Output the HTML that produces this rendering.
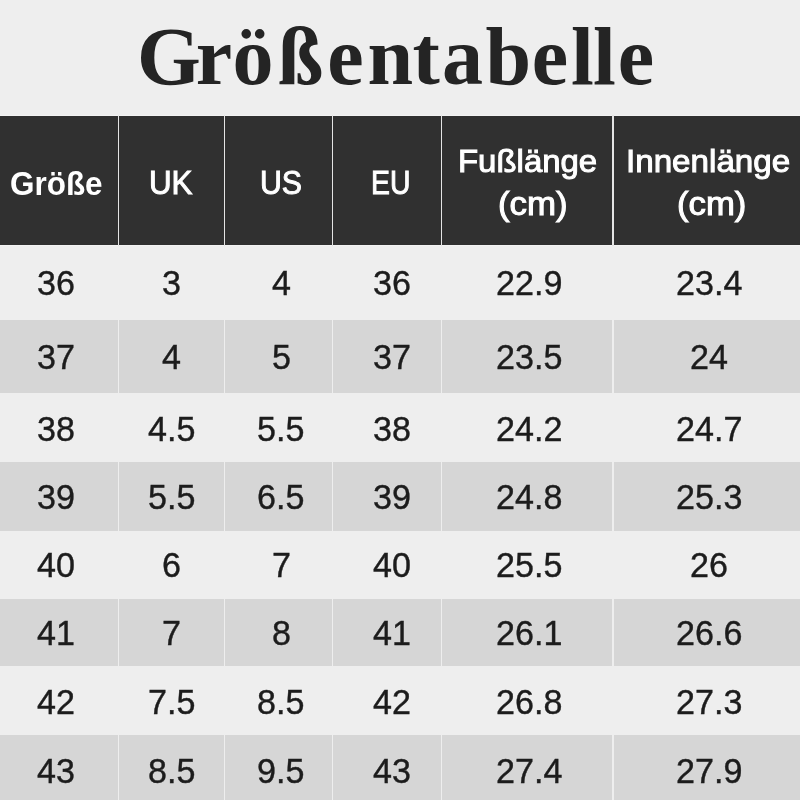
<!DOCTYPE html>
<html lang="de"><head><meta charset="utf-8"><title>Größentabelle</title>
<style>
html,body{margin:0;padding:0}
body{width:800px;height:800px;overflow:hidden;background:#eeeeee;position:relative;font-family:'Liberation Sans',sans-serif}
h1{margin:0;position:absolute;left:0;top:0;width:800px;height:115px;font-size:82px;line-height:1}
h1 svg{display:block}
table,thead,tbody,tr{display:block;margin:0;padding:0;border:0}
th,td{display:contents;font-weight:inherit}
table{position:absolute;left:0;top:0;width:800px;height:800px;border-collapse:collapse;will-change:transform}
tr{position:absolute;left:0;width:800px;box-sizing:border-box}
tr.hd{top:115px;height:131px;background:#303030;border-top:1px solid #f3f3f3;border-bottom:1px solid #f3f3f3}
tr.dk{background:#d6d6d6}
.t{position:absolute;display:block;white-space:nowrap;line-height:1;transform-origin:0 0}
.h{font-size:32px;font-weight:400;color:#fff;-webkit-text-stroke:1px #fff;margin-top:-1px}
.hb{font-weight:700;-webkit-text-stroke:0}
.b{font-size:35px;font-weight:400;color:#1c1c1c;-webkit-text-stroke:0.4px #1c1c1c}
.sep{position:absolute;top:245px;height:560px;width:1.4px;background:#eeeeee}
.seph{position:absolute;top:115px;height:131px;width:1.5px;background:#e4e4e4}
</style></head><body>
<h1><svg width="800" height="115" viewBox="0 0 800 115"><text x="137.1 195.7 232.6 277.8 327.2 367.4 412.6 442.1 485.6 531.7 571.0 593.0 617.8" y="84.4" font-family="Liberation Serif, serif" font-weight="700" font-size="82" fill="#242424">Größentabelle</text></svg></h1>
<table>
<thead>
<tr class="hd">
<th><span class="t h hb" style="left:9.52px;top:50.84px;transform:scale(0.9826,1.0650)">Größe</span></th>
<th><span class="t h" style="left:148.54px;top:51.92px;transform:scale(0.9786,1.0100)">UK</span></th>
<th><span class="t h" style="left:259.91px;top:51.92px;transform:scale(0.9463,1.0100)">US</span></th>
<th><span class="t h" style="left:371.13px;top:51.92px;transform:scale(0.8854,1.0100)">EU</span></th>
<th><span class="t h" style="left:458.24px;top:29.75px;transform:scale(1.0295,1.0000)">Fußlänge</span><span class="t h" style="left:497.91px;top:71.88px;transform:scale(1.0887,1.0400)">(cm)</span></th>
<th><span class="t h" style="left:625.63px;top:29.80px;transform:scale(1.0368,1.0000)">Innenlänge</span><span class="t h" style="left:677.32px;top:71.88px;transform:scale(1.0839,1.0400)">(cm)</span></th>
</tr>
</thead>
<tbody>
<tr class="lt" style="top:245px;height:75.0px">
<td><span class="t b" style="left:36.92px;top:19.30px;transform:scale(0.9750,1.0200)">36</span></td><td><span class="t b" style="left:161.91px;top:19.30px;transform:scale(0.9750,1.0200)">3</span></td><td><span class="t b" style="left:271.51px;top:19.30px;transform:scale(0.9750,1.0200)">4</span></td><td><span class="t b" style="left:373.02px;top:19.30px;transform:scale(0.9750,1.0200)">36</span></td><td><span class="t b" style="left:496.09px;top:19.30px;transform:scale(0.9750,1.0200)">22.9</span></td><td><span class="t b" style="left:676.09px;top:19.30px;transform:scale(0.9750,1.0200)">23.4</span></td>
</tr>
<tr class="dk" style="top:320px;height:73.4px">
<td><span class="t b" style="left:36.92px;top:17.70px;transform:scale(0.9750,1.0200)">37</span></td><td><span class="t b" style="left:161.91px;top:17.70px;transform:scale(0.9750,1.0200)">4</span></td><td><span class="t b" style="left:271.51px;top:17.70px;transform:scale(0.9750,1.0200)">5</span></td><td><span class="t b" style="left:373.02px;top:17.70px;transform:scale(0.9750,1.0200)">37</span></td><td><span class="t b" style="left:496.09px;top:17.70px;transform:scale(0.9750,1.0200)">23.5</span></td><td><span class="t b" style="left:690.32px;top:17.70px;transform:scale(0.9750,1.0200)">24</span></td>
</tr>
<tr class="lt" style="top:393.4px;height:68.6px">
<td><span class="t b" style="left:36.92px;top:16.70px;transform:scale(0.9750,1.0200)">38</span></td><td><span class="t b" style="left:147.68px;top:16.70px;transform:scale(0.9750,1.0200)">4.5</span></td><td><span class="t b" style="left:257.28px;top:16.70px;transform:scale(0.9750,1.0200)">5.5</span></td><td><span class="t b" style="left:373.02px;top:16.70px;transform:scale(0.9750,1.0200)">38</span></td><td><span class="t b" style="left:496.09px;top:16.70px;transform:scale(0.9750,1.0200)">24.2</span></td><td><span class="t b" style="left:676.09px;top:16.70px;transform:scale(0.9750,1.0200)">24.7</span></td>
</tr>
<tr class="dk" style="top:462px;height:68.5px">
<td><span class="t b" style="left:36.92px;top:15.80px;transform:scale(0.9750,1.0200)">39</span></td><td><span class="t b" style="left:147.68px;top:15.80px;transform:scale(0.9750,1.0200)">5.5</span></td><td><span class="t b" style="left:257.28px;top:15.80px;transform:scale(0.9750,1.0200)">6.5</span></td><td><span class="t b" style="left:373.02px;top:15.80px;transform:scale(0.9750,1.0200)">39</span></td><td><span class="t b" style="left:496.09px;top:15.80px;transform:scale(0.9750,1.0200)">24.8</span></td><td><span class="t b" style="left:676.09px;top:15.80px;transform:scale(0.9750,1.0200)">25.3</span></td>
</tr>
<tr class="lt" style="top:530.5px;height:68.5px">
<td><span class="t b" style="left:36.92px;top:15.60px;transform:scale(0.9750,1.0200)">40</span></td><td><span class="t b" style="left:161.91px;top:15.60px;transform:scale(0.9750,1.0200)">6</span></td><td><span class="t b" style="left:271.51px;top:15.60px;transform:scale(0.9750,1.0200)">7</span></td><td><span class="t b" style="left:373.02px;top:15.60px;transform:scale(0.9750,1.0200)">40</span></td><td><span class="t b" style="left:496.09px;top:15.60px;transform:scale(0.9750,1.0200)">25.5</span></td><td><span class="t b" style="left:690.32px;top:15.60px;transform:scale(0.9750,1.0200)">26</span></td>
</tr>
<tr class="dk" style="top:599px;height:67.4px">
<td><span class="t b" style="left:36.92px;top:15.10px;transform:scale(0.9750,1.0200)">41</span></td><td><span class="t b" style="left:161.91px;top:15.10px;transform:scale(0.9750,1.0200)">7</span></td><td><span class="t b" style="left:271.51px;top:15.10px;transform:scale(0.9750,1.0200)">8</span></td><td><span class="t b" style="left:373.02px;top:15.10px;transform:scale(0.9750,1.0200)">41</span></td><td><span class="t b" style="left:496.09px;top:15.10px;transform:scale(0.9750,1.0200)">26.1</span></td><td><span class="t b" style="left:676.09px;top:15.10px;transform:scale(0.9750,1.0200)">26.6</span></td>
</tr>
<tr class="lt" style="top:666.4px;height:68.6px">
<td><span class="t b" style="left:36.92px;top:16.60px;transform:scale(0.9750,1.0200)">42</span></td><td><span class="t b" style="left:147.68px;top:16.60px;transform:scale(0.9750,1.0200)">7.5</span></td><td><span class="t b" style="left:257.28px;top:16.60px;transform:scale(0.9750,1.0200)">8.5</span></td><td><span class="t b" style="left:373.02px;top:16.60px;transform:scale(0.9750,1.0200)">42</span></td><td><span class="t b" style="left:496.09px;top:16.60px;transform:scale(0.9750,1.0200)">26.8</span></td><td><span class="t b" style="left:676.09px;top:16.60px;transform:scale(0.9750,1.0200)">27.3</span></td>
</tr>
<tr class="dk" style="top:735px;height:68.6px">
<td><span class="t b" style="left:36.92px;top:16.60px;transform:scale(0.9750,1.0200)">43</span></td><td><span class="t b" style="left:147.68px;top:16.60px;transform:scale(0.9750,1.0200)">8.5</span></td><td><span class="t b" style="left:257.28px;top:16.60px;transform:scale(0.9750,1.0200)">9.5</span></td><td><span class="t b" style="left:373.02px;top:16.60px;transform:scale(0.9750,1.0200)">43</span></td><td><span class="t b" style="left:496.09px;top:16.60px;transform:scale(0.9750,1.0200)">27.4</span></td><td><span class="t b" style="left:676.09px;top:16.60px;transform:scale(0.9750,1.0200)">27.9</span></td>
</tr>
</tbody>
</table>
<div class="sep" style="left:117.80px"></div><div class="seph" style="left:117.75px"></div>
<div class="sep" style="left:223.70px"></div><div class="seph" style="left:223.65px"></div>
<div class="sep" style="left:331.80px"></div><div class="seph" style="left:331.75px"></div>
<div class="sep" style="left:440.80px"></div><div class="seph" style="left:440.75px"></div>
<div class="sep" style="left:612.30px"></div><div class="seph" style="left:612.25px"></div>
</body></html>
